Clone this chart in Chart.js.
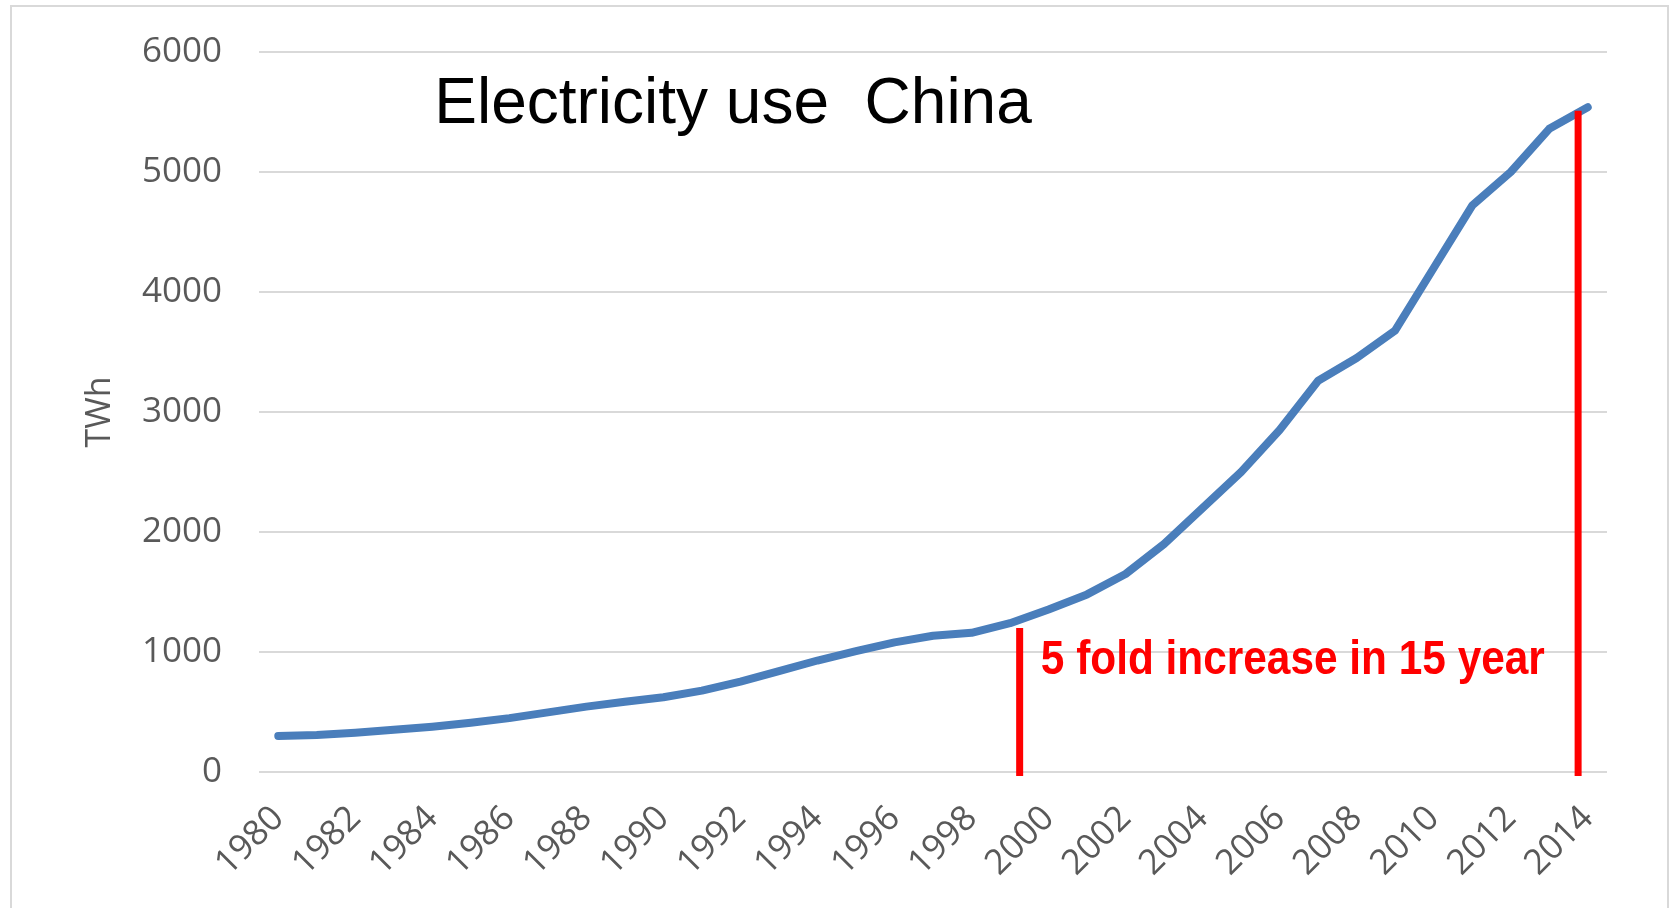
<!DOCTYPE html>
<html>
<head>
<meta charset="utf-8">
<script src="https://cdn.jsdelivr.net/npm/chart.js@4.4.1/dist/chart.umd.min.js"></script>
<style>
  html, body { margin: 0; padding: 0; background: #fff; overflow: hidden; }
  #frame { position: absolute; left: 10px; top: 5px; width: 1659px; height: 920px; border: 2px solid #d9d9d9; box-sizing: border-box; }
  #chart { position: absolute; left: 0; top: 0; }
</style>
</head>
<body>
<div id="frame"></div>
<canvas id="chart" width="1674" height="908"></canvas>
<script>
var years = [];
for (var yr = 1980; yr <= 2014; yr++) years.push(String(yr));

// electricity use, TWh
var twh = [300, 309, 328, 352, 378, 411, 449, 497, 545, 585,
           623, 678, 754, 840, 929, 1007, 1080, 1135, 1160, 1240,
           1355, 1480, 1650, 1900, 2200, 2500, 2850, 3260, 3450, 3680,
           4200, 4720, 5000, 5360, 5540];

var yTicks = [0, 1000, 2000, 3000, 4000, 5000, 6000];

// red markers: [year, top value]
var markYears = [1999.25, 2013.75];
var markTops = [1200, 5510];
var noteText = "5 fold increase in 15 year";
var titleText = "Electricity use  China";

var annotate = {
    id: "annotate",
    afterDatasetsDraw: function (chart) {
        var ctx = chart.ctx;
        var x = chart.scales.x, y = chart.scales.y;
        ctx.save();
        ctx.strokeStyle = "#ff0000";
        ctx.lineWidth = 7;
        markYears.forEach(function (m, i) {
            var px = x.getPixelForValue(m - 1980);
            ctx.beginPath();
            ctx.moveTo(px, y.getPixelForValue(markTops[i]));
            ctx.lineTo(px, y.getPixelForValue(0) + 4);
            ctx.stroke();
        });

        // note, squeezed to a narrow bold look
        ctx.fillStyle = "#ff0000";
        ctx.font = "bold 48px 'Liberation Sans', Arial, sans-serif";
        ctx.textBaseline = "middle";
        ctx.textAlign = "left";
        var tx = x.getPixelForValue(19.8), ty = y.getPixelForValue(925);
        var w = ctx.measureText(noteText).width;
        ctx.translate(tx, ty);
        ctx.scale(504 / w, 1);
        ctx.fillText(noteText, 0, 0);
        ctx.restore();

        ctx.save();
        ctx.fillStyle = "#000000";
        ctx.font = "64px 'Liberation Sans', Arial, sans-serif";
        ctx.textAlign = "center";
        ctx.textBaseline = "middle";
        ctx.fillText(titleText, 733, 105);
        ctx.restore();
    }
};

new Chart(document.getElementById("chart"), {
    type: "line",
    data: {
        labels: years,
        datasets: [{
            label: "TWh",
            data: twh,
            borderColor: "#4a7ebb",
            borderWidth: 8,
            borderCapStyle: "round",
            borderJoinStyle: "round",
            pointRadius: 0,
            tension: 0,
            fill: false
        }]
    },
    options: {
        responsive: false,
        animation: false,
        layout: { padding: { left: 0, top: 52, right: 67, bottom: 0 } },
        plugins: { legend: { display: false }, tooltip: { enabled: false } },
        scales: {
            x: {
                offset: true,
                grid: { display: false, drawTicks: false },
                border: { display: false },
                ticks: {
                    autoSkip: false,
                    minRotation: 45,
                    maxRotation: 45,
                    padding: 26,
                    color: "#595959",
                    font: { family: "'Open Sans', sans-serif", size: 35 },
                    callback: function (v, i) { return i % 2 === 0 ? years[i] : ""; }
                },
                afterFit: function (s) { s.height = 136; s.paddingLeft = 0; s.paddingRight = 0; }
            },
            y: {
                min: 0,
                max: 6000,
                afterBuildTicks: function (s) { s.ticks = yTicks.map(function (v) { return { value: v }; }); },
                grid: { color: "#d9d9d9", lineWidth: 2, drawTicks: false },
                border: { display: false },
                ticks: {
                    padding: 37,
                    color: "#595959",
                    font: { family: "'Open Sans', sans-serif", size: 35 },
                    callback: function (v) { return String(v); }
                },
                title: {
                    display: true,
                    text: "TWh",
                    color: "#595959",
                    font: { family: "'Open Sans', sans-serif", size: 34 },
                    padding: { top: 80, bottom: 0 }
                },
                afterFit: function (s) { s.width = 259; s.paddingTop = 0; s.paddingBottom = 0; }
            }
        }
    },
    plugins: [annotate]
});
</script>
</body>
</html>
